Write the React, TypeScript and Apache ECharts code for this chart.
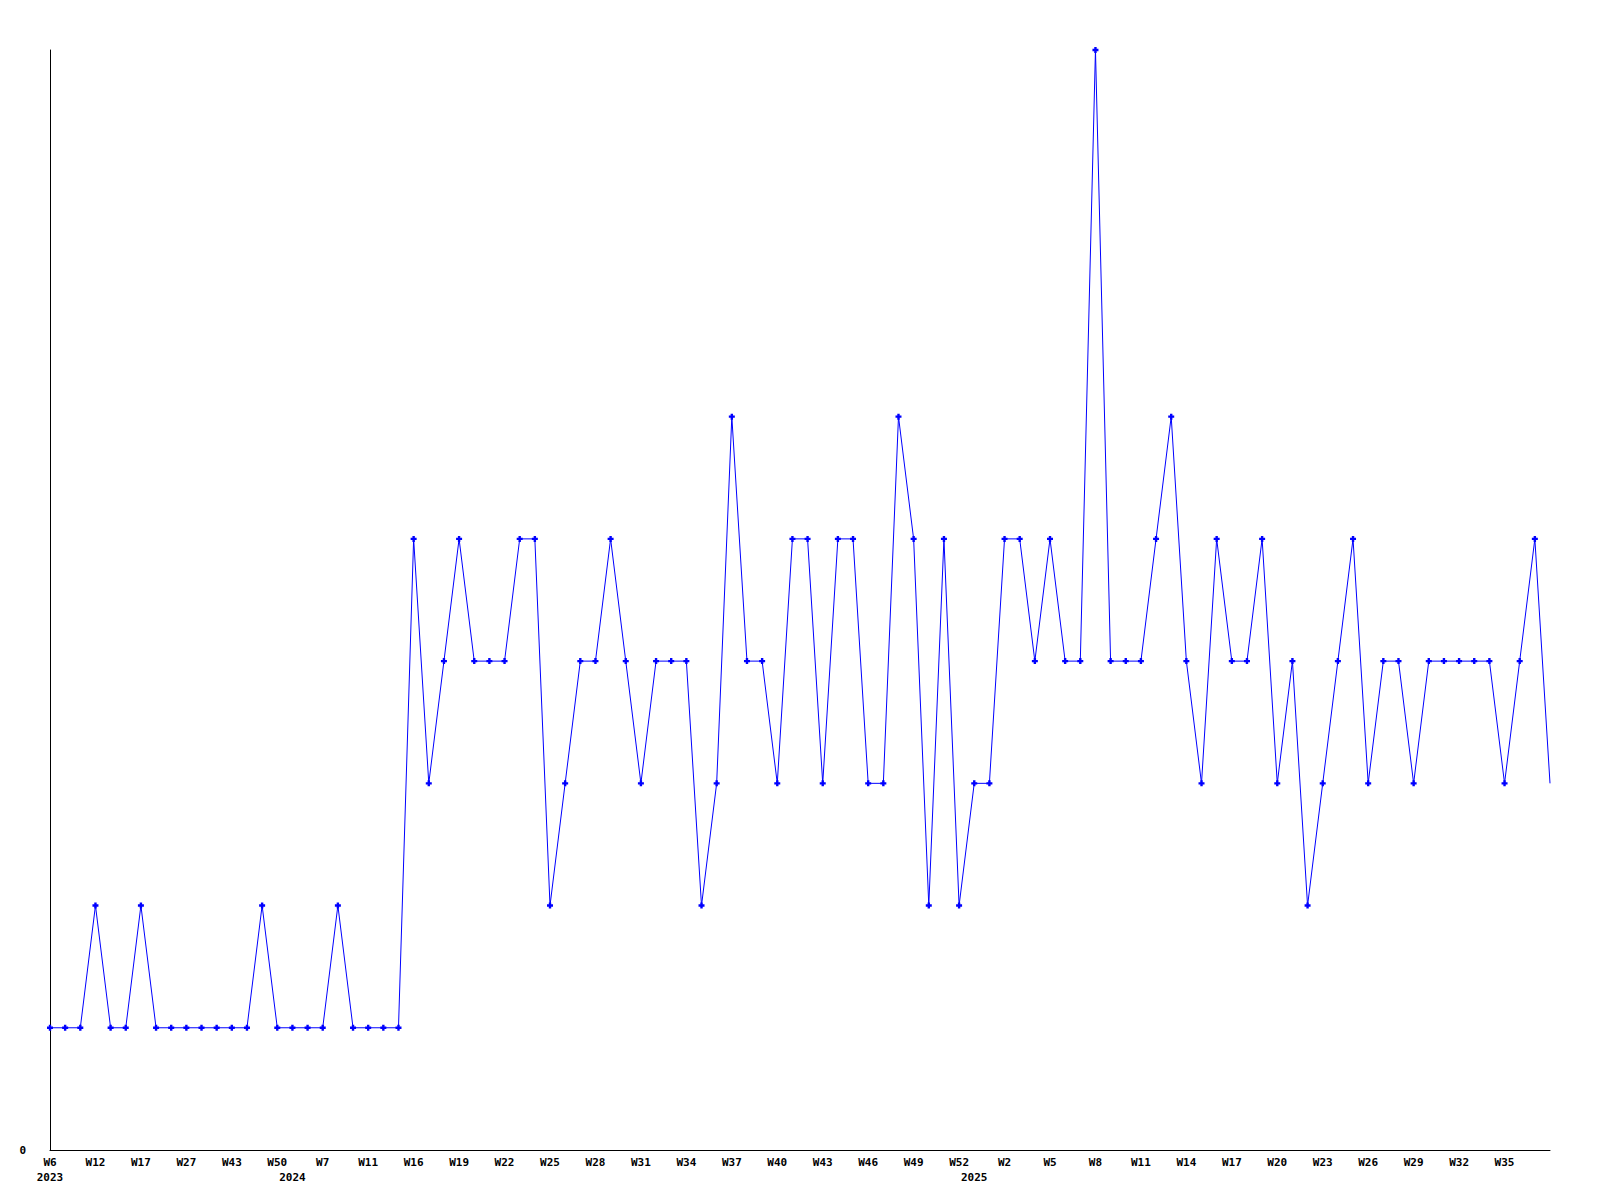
import React, { useEffect, useRef } from "react";
import * as echarts from "echarts";

// Week labels for each point (every 3rd one is shown on the axis)
const weeks: string[] = [
  "W6", "W8", "W10", "W12", "W14", "W15", "W17", "W20", "W24", "W27",
  "W32", "W38", "W43", "W45", "W48", "W50", "W1", "W4", "W7", "W8",
  "W10", "W11", "W13", "W15", "W16", "W17", "W18", "W19", "W20", "W21",
  "W22", "W23", "W24", "W25", "W26", "W27", "W28", "W29", "W30", "W31",
  "W32", "W33", "W34", "W35", "W36", "W37", "W38", "W39", "W40", "W41",
  "W42", "W43", "W44", "W45", "W46", "W47", "W48", "W49", "W50", "W51",
  "W52", "W0", "W1", "W2", "W3", "W4", "W5", "W6", "W7", "W8",
  "W9", "W10", "W11", "W12", "W13", "W14", "W15", "W16", "W17", "W18",
  "W19", "W20", "W21", "W22", "W23", "W24", "W25", "W26", "W27", "W28",
  "W29", "W30", "W31", "W32", "W33", "W34", "W35", "W36", "W37", "W38",
];

// Year of each point (year label is shown where the year changes)
const years: string[] = [
  ...Array(16).fill("2023"),
  ...Array(45).fill("2024"),
  ...Array(39).fill("2025"),
];

// Values
const values: number[] = [
  1, 1, 1, 2, 1, 1, 2, 1, 1, 1,
  1, 1, 1, 1, 2, 1, 1, 1, 1, 2,
  1, 1, 1, 1, 5, 3, 4, 5, 4, 4,
  4, 5, 5, 2, 3, 4, 4, 5, 4, 3,
  4, 4, 4, 2, 3, 6, 4, 4, 3, 5,
  5, 3, 5, 5, 3, 3, 6, 5, 2, 5,
  2, 3, 3, 5, 5, 4, 5, 4, 4, 9,
  4, 4, 4, 5, 6, 4, 3, 5, 4, 4,
  5, 3, 4, 2, 3, 4, 5, 3, 4, 4,
  3, 4, 4, 4, 4, 4, 3, 4, 5, 3,
];

const yMin = 0;
const yMax = 9;

const FONT = "'DejaVu Sans Mono', monospace";
const PLUS = "path://M1.5,0H3.5V1.5H5V3.5H3.5V5H1.5V3.5H0V1.5H1.5Z";

export default function App() {
  const ref = useRef<HTMLDivElement>(null);

  useEffect(() => {
    if (!ref.current) return;
    const chart = echarts.init(ref.current, undefined, { renderer: "svg" });
    const last = values.length - 1;

    const seriesData = values.map((v, i) =>
      i === last ? { value: v, symbol: "none" } : v
    );

    chart.setOption({
      animation: false,
      backgroundColor: "#ffffff",
      grid: {
        left: 50,
        right: 50,
        top: 50,
        bottom: 50,
        containLabel: false,
        outerBoundsMode: "none",
      },
      xAxis: [
        {
          type: "category",
          data: weeks,
          boundaryGap: false,
          position: "bottom",
          axisLine: { show: true, lineStyle: { color: "#000", width: 1 } },
          axisTick: { show: false },
          splitLine: { show: false },
          axisLabel: {
            interval: (i: number) => i % 3 === 0 && i < last,
            color: "#000",
            fontFamily: FONT,
            fontWeight: "bold",
            fontSize: 11,
            margin: 7,
          },
        },
        {
          type: "category",
          data: years,
          boundaryGap: false,
          position: "bottom",
          offset: 15,
          axisLine: { show: false },
          axisTick: { show: false },
          splitLine: { show: false },
          axisLabel: {
            interval: (i: number) => i === 0 || years[i] !== years[i - 1],
            color: "#000",
            fontFamily: FONT,
            fontWeight: "bold",
            fontSize: 11,
            margin: 7,
          },
        },
      ],
      yAxis: {
        type: "value",
        min: yMin,
        max: yMax,
        interval: 9,
        axisLine: { show: true, lineStyle: { color: "#000", width: 1 } },
        axisTick: { show: false },
        splitLine: { show: false },
        axisLabel: {
          formatter: (v: number) => (v === 0 ? "0" : ""),
          color: "#000",
          fontFamily: FONT,
          fontWeight: "bold",
          fontSize: 11,
          margin: 24,
        },
      },
      series: [
        {
          type: "line",
          xAxisIndex: 0,
          yAxisIndex: 0,
          data: seriesData,
          symbol: PLUS,
          symbolSize: 6,
          showAllSymbol: true,
          lineStyle: { color: "#0000ff", width: 1 },
          itemStyle: { color: "#0000ff" },
          emphasis: { disabled: true },
        },
      ],
    });

    return () => chart.dispose();
  }, []);

  return (
    <div
      ref={ref}
      style={{ position: "absolute", left: 0, top: 0, width: 1600, height: 1200 }}
    />
  );
}
